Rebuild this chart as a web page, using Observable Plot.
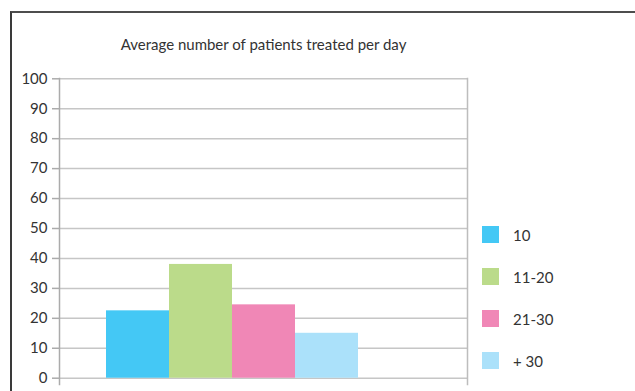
<!DOCTYPE html>
<html>
<head>
<meta charset="utf-8">
<script src="https://cdn.jsdelivr.net/npm/d3@7"></script>
<script src="https://cdn.jsdelivr.net/npm/@observablehq/plot@0.6"></script>
<style>
  html, body { margin: 0; padding: 0; background: #fff; }
  #wrap {
    position: relative; width: 635px; height: 391px; overflow: hidden;
    font-family: Lato, "Open Sans", sans-serif; color: #333;
  }
  #border {
    position: absolute; left: 10px; top: 11px; width: 700px; height: 500px;
    border-top: 2px solid #4d4d4d; border-left: 2px solid #3a3a3a;
    box-sizing: border-box;
  }
  #chart { position: absolute; left: 0; top: 0; }
  #legend {
    position: absolute; left: 482px; top: 226px;
    display: flex; flex-direction: column; gap: 25px;
    font-size: 15px;
  }
  .item { display: flex; align-items: center; height: 17px; }
  .sw { width: 17px; height: 17px; margin-right: 14px; }
</style>
</head>
<body>
<div id="wrap">
  <div id="border"></div>
  <div id="chart"></div>
  <div id="legend"></div>
</div>
<script>
// Patients treated per day, grouped by practice size
const groups = ["10", "11-20", "21-30", "+ 30"];
const values = [22.5, 38, 24.5, 15];
const colors = ["#44c8f5", "#bbdb8a", "#f087b6", "#abe1fa"];
const yTicks = [0, 10, 20, 30, 40, 50, 60, 70, 80, 90, 100];
const title = "Average number of patients treated per day";

const data = groups.map((g, i) => ({group: g, value: values[i]}));

const plot = Plot.plot({
  width: 635,
  height: 391,
  marginLeft: 59,
  marginRight: 168,
  marginTop: 78,
  marginBottom: 7,
  style: {fontFamily: "Lato, 'Open Sans', sans-serif", color: "#333", background: "transparent"},
  x: {type: "band", domain: groups, range: [105, 359], padding: 0, axis: null},
  y: {domain: [0, 100], range: [377.7, 78.3], axis: null},
  color: {domain: groups, range: colors},
  marks: [
    Plot.gridY(yTicks, {stroke: "#c6c6c6", strokeOpacity: 1, strokeWidth: 1.5}),
    Plot.barY(data, {x: "group", y: "value", fill: "group"}),
    Plot.frame({anchor: "left", stroke: "#ababab", strokeWidth: 1.5}),
    Plot.frame({anchor: "right", stroke: "#bdbdbd", strokeWidth: 1.5}),
    Plot.axisY(yTicks, {
      anchor: "left", label: null, tickSize: 7, tickPadding: 5, fontSize: 15,
      stroke: "#ababab", strokeWidth: 1.5, fill: "#333"
    }),
    Plot.text([title], {
      frameAnchor: "top", lineAnchor: "middle", dy: -33,
      fontSize: 15, fill: "#333"
    })
  ]
});
document.getElementById("chart").appendChild(plot);

// Legend built from the same colour scale
const color = plot.scale("color");
const legend = d3.select("#legend");
groups.forEach((g, i) => {
  const item = legend.append("div").attr("class", "item");
  item.append("div").attr("class", "sw").style("background", color.range[i]);
  item.append("span").text(g);
});
</script>
</body>
</html>
